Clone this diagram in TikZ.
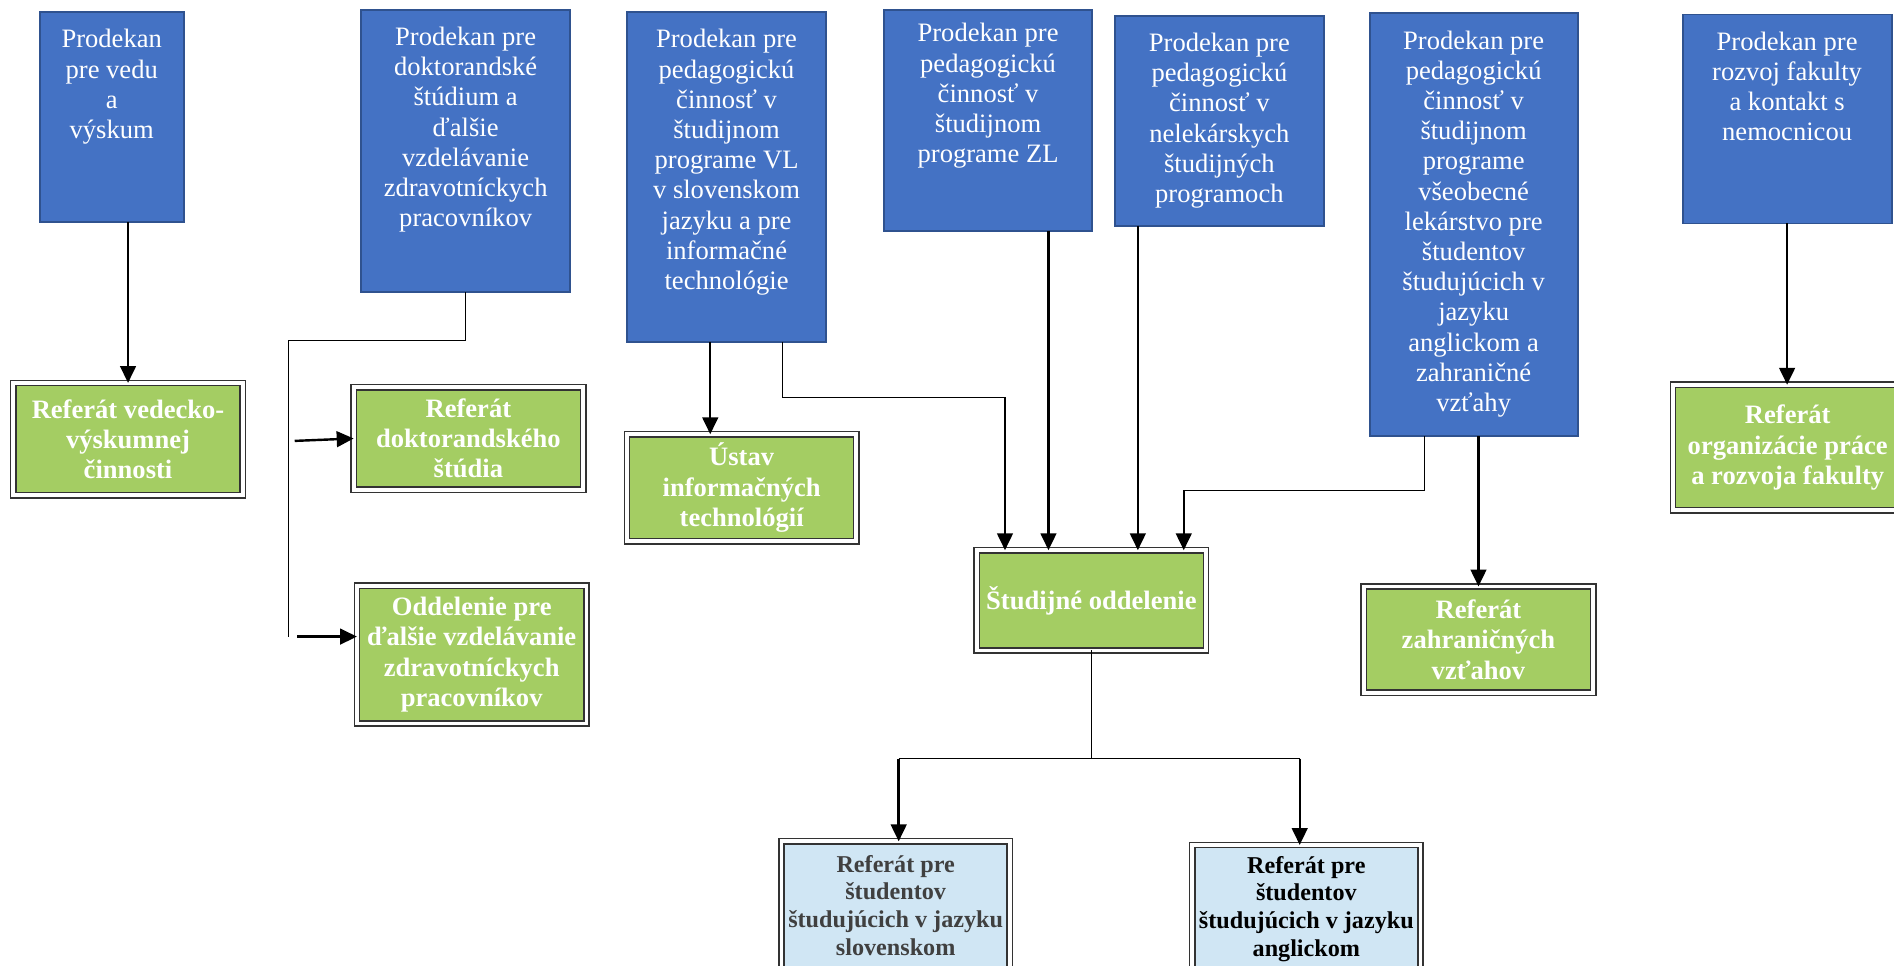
\documentclass[tikz,border=0pt]{standalone}
\usepackage{fontspec}
\setmainfont{Liberation Serif}
\usetikzlibrary{arrows.meta}
\definecolor{dekanblue}{HTML}{4472C4}
\definecolor{dekanedge}{HTML}{2F528F}
\definecolor{refgreen}{HTML}{A4CD63}
\definecolor{refblue}{HTML}{D0E6F4}
\definecolor{refgray}{HTML}{404040}

\begin{document}
\begin{tikzpicture}[x=0.5pt,y=-0.5pt,
    prodekan/.style={draw=dekanedge,line width=0.8pt,fill=dekanblue,inner sep=0pt,outer sep=0pt},
    ptext/.style={text=white,align=center,anchor=north,inner sep=0pt,yshift=-7pt,
      font=\fontsize{11}{12.5}\selectfont},
    referat/.style={text=white,fill=refgreen,draw=black!80,line width=0.6pt,double=white,double distance=1.6pt,
      minimum width=95pt,inner sep=0pt,outer sep=0pt,align=center,
      font=\fontsize{11}{12.5}\selectfont\bfseries},
    oddel/.style={referat,fill=refblue,minimum width=94.5pt,minimum height=53pt,
      font=\fontsize{10}{11.5}\selectfont\bfseries},
    arr/.style={-{Triangle[width=6.5pt,length=7pt]},line width=1pt},
    spoj/.style={line width=0.5pt}]
  \useasboundingbox (0,0) rectangle (1568,799);
  \begin{scope}
    \clip (0,0) rectangle (1568,799);
    \fill[white] (0,0) rectangle (1568,799);

    % prodekani
    \node[prodekan,minimum width=59.5pt,minimum height=87pt] (pvv) at (92.5,97) {};
    \node[ptext] (pvvt) at (pvv.north) {Prodekan\\pre vedu\\a\\výskum};
    \node[prodekan,minimum width=86.5pt,minimum height=117pt] (pdr) at (385.5,125) {};
    \node[ptext] (pdrt) at (pdr.north) {Prodekan pre\\doktorandské\\štúdium a\\ďalšie\\vzdelávanie\\zdravotníckych\\pracovníkov};
    \node[prodekan,minimum width=82.5pt,minimum height=136.5pt] (pvl) at (601.5,146.5) {};
    \node[ptext] (pvlt) at (pvl.north) {Prodekan pre\\pedagogickú\\činnosť v\\študijnom\\programe VL\\v slovenskom\\jazyku a pre\\informačné\\technológie};
    \node[prodekan,minimum width=86pt,minimum height=91.5pt] (pzl) at (818,99.5) {};
    \node[ptext,yshift=1.5pt] (pzlt) at (pzl.north) {Prodekan pre\\pedagogickú\\činnosť v\\študijnom\\programe ZL};
    \node[prodekan,minimum width=86.5pt,minimum height=87pt] (pnl) at (1009.5,100) {};
    \node[ptext] (pnlt) at (pnl.north) {Prodekan pre\\pedagogickú\\činnosť v\\nelekárskych\\študijných\\programoch};
    \node[prodekan,minimum width=86pt,minimum height=175pt] (pvs) at (1220,186) {};
    \node[ptext] (pvst) at (pvs.north) {Prodekan pre\\pedagogickú\\činnosť v\\študijnom\\programe\\všeobecné\\lekárstvo pre\\študentov\\študujúcich v\\jazyku\\anglickom a\\zahraničné\\vzťahy};
    \node[prodekan,minimum width=86.5pt,minimum height=86.5pt] (prf) at (1479.5,98.5) {};
    \node[ptext] (prft) at (prf.north) {Prodekan pre\\rozvoj fakulty\\a kontakt s\\nemocnicou};

    % referaty
    \node[referat,minimum height=46.5pt] (rvv) at (106,363.5) {Referát vedecko-\\výskumnej\\činnosti};
    \node[referat,minimum height=42.5pt] (rdr) at (387.75,363) {Referát\\doktorandského\\štúdia};
    \node[referat,minimum height=44.25pt] (ust) at (614,403.75) {Ústav\\informačných\\technológií};
    \node[referat,minimum height=57pt] (odv) at (390.5,542) {Oddelenie pre\\ďalšie vzdelávanie\\zdravotníckych\\pracovníkov};
    \node[referat,minimum height=41.5pt] (sto) at (903.5,497) {Študijné oddelenie};
    \node[referat,minimum height=44pt] (rzv) at (1224,529.5) {Referát\\zahraničných\\vzťahov};
    \node[referat,minimum height=52pt] (rop) at (1480,370.5) {Referát\\organizácie práce\\a rozvoja fakulty};
    \node[oddel,text=refgray] (rss) at (741.5,749.5) {Referát pre\\študentov\\študujúcich v jazyku\\slovenskom};
    \node[oddel,text=black] (rsa) at (1081.5,752.5) {Referát pre\\študentov\\študujúcich v jazyku\\anglickom};

    % body spojov
    \coordinate (b1) at (239,282);
    \coordinate (b2) at (239,527);
    \coordinate (b3) at (244,365);
    \coordinate (b4) at (246,527);
    \coordinate (c1) at (588,0);
    \coordinate (c2) at (648,0);
    \coordinate (c3) at (832,329);
    \coordinate (c4) at (868,0);
    \coordinate (c5) at (942,0);
    \coordinate (f1) at (1179,406);
    \coordinate (f2) at (980,406);
    \coordinate (s1) at (906,628);
    \coordinate (s2) at (744,628);
    \coordinate (s3) at (1076,628);

    % spoje
    \draw[arr] (rvv.north |- pvv.south) -- (rvv.north);
    \draw[spoj] (pdr.south) |- (b1) -- (b2);
    \draw[arr] (b3) -- (rdr.west);
    \draw[arr] (b4) -- (b4 -| odv.west);
    \draw[arr] (pvl.south -| c1) -- (ust.north -| c1);
    \draw[spoj] (pvl.south -| c2) |- (c3);
    \draw[arr] (c3) -- (sto.north -| c3);
    \draw[arr] (pzl.south -| c4) -- (sto.north -| c4);
    \draw[arr] (pnl.south -| c5) -- (sto.north -| c5);
    \draw[spoj] (pvs.south -| f1) -- (f1) -- (f2);
    \draw[arr] (f2) -- (sto.north -| f2);
    \draw[arr] (rzv.north |- pvs.south) -- (rzv.north);
    \draw[arr] (prf.south) -- (prf.south |- rop.north);
    \draw[spoj] (sto.south) -- (sto.south |- s1);
    \draw[spoj] (s2) -- (s3);
    \draw[arr] (s2) -- (rss.north -| s2);
    \draw[arr] (s3) -- (rsa.north -| s3);
  \end{scope}
\end{tikzpicture}
\end{document}
